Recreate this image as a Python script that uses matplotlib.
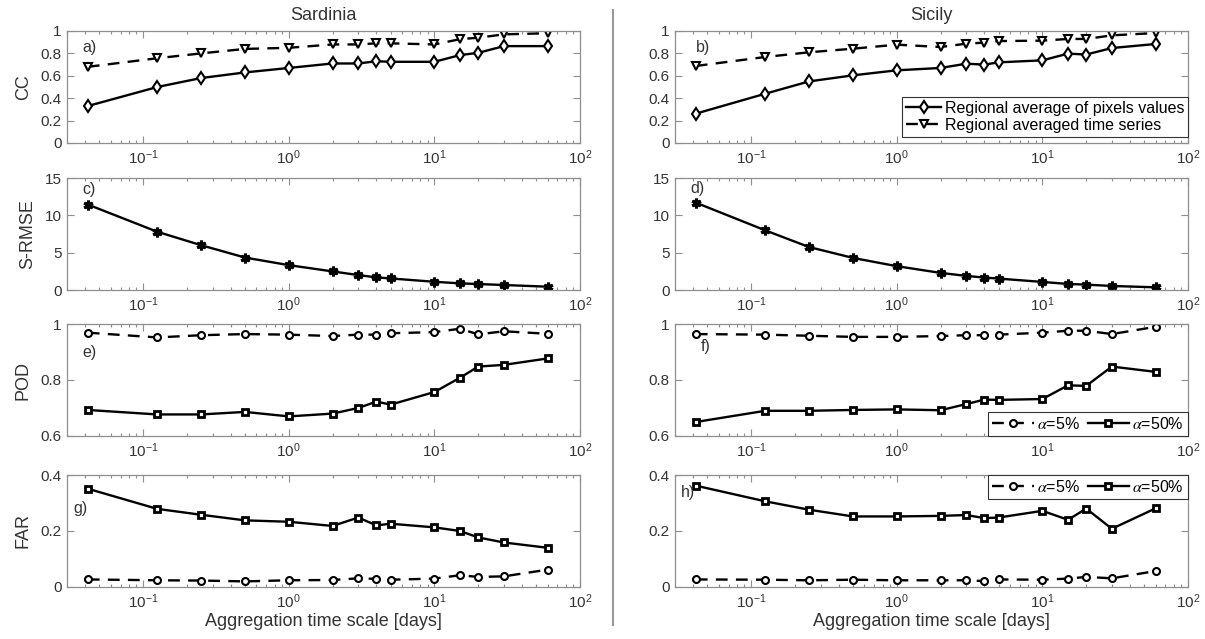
import numpy as np
import matplotlib
matplotlib.use("Agg")
import matplotlib.pyplot as plt
from matplotlib.lines import Line2D
from matplotlib.ticker import LogLocator, FuncFormatter, NullFormatter

plt.rcParams["font.family"] = ["Liberation Sans", "DejaVu Sans"]
plt.rcParams["mathtext.fontset"] = "stix"

# aggregation time scales [days]: 1h, 3h, 6h, 12h, 1d ... 60d
x_days = [1 / 24, 1 / 8, 1 / 4, 1 / 2, 1, 2, 3, 4, 5, 10, 15, 20, 30, 60]

regions = ["Sardinia", "Sicily"]

# correlation coefficient
cc_px_sar = [0.33, 0.50, 0.58, 0.63, 0.67, 0.71, 0.71, 0.73, 0.725, 0.725, 0.785, 0.805, 0.865, 0.865]
cc_ts_sar = [0.68, 0.757, 0.80, 0.84, 0.85, 0.88, 0.88, 0.89, 0.89, 0.88, 0.927, 0.94, 0.97, 0.98]
cc_px_sic = [0.262, 0.44, 0.55, 0.604, 0.649, 0.67, 0.708, 0.70, 0.72, 0.738, 0.798, 0.79, 0.848, 0.884]
cc_ts_sic = [0.6875, 0.768, 0.81, 0.842, 0.878, 0.857, 0.887, 0.896, 0.91, 0.914, 0.929, 0.929, 0.961, 0.982]

# scaled RMSE
srmse_sar = [11.45, 7.8, 6.0, 4.35, 3.33, 2.49, 2.0, 1.69, 1.55, 1.1, 0.89, 0.8, 0.67, 0.44]
srmse_sic = [11.7, 7.99, 5.75, 4.3, 3.19, 2.29, 1.89, 1.66, 1.53, 1.08, 0.81, 0.72, 0.54, 0.36]

# probability of detection
pod5_sar = [0.969, 0.952, 0.96, 0.964, 0.962, 0.957, 0.962, 0.962, 0.967, 0.971, 0.983, 0.963, 0.974, 0.965]
pod50_sar = [0.693, 0.677, 0.677, 0.686, 0.670, 0.680, 0.700, 0.723, 0.712, 0.757, 0.808, 0.848, 0.854, 0.877]
pod5_sic = [0.964, 0.962, 0.958, 0.954, 0.954, 0.957, 0.96, 0.96, 0.962, 0.969, 0.976, 0.976, 0.964, 0.99]
pod50_sic = [0.65, 0.69, 0.69, 0.693, 0.695, 0.692, 0.714, 0.73, 0.729, 0.732, 0.781, 0.779, 0.848, 0.829]

# false alarm ratio
far5_sar = [0.027, 0.024, 0.023, 0.020, 0.024, 0.025, 0.031, 0.029, 0.026, 0.030, 0.042, 0.036, 0.038, 0.062]
far50_sar = [0.351, 0.279, 0.258, 0.238, 0.233, 0.218, 0.248, 0.22, 0.226, 0.213, 0.20, 0.177, 0.159, 0.14]
far5_sic = [0.027, 0.026, 0.024, 0.026, 0.024, 0.024, 0.024, 0.021, 0.027, 0.026, 0.030, 0.036, 0.031, 0.057]
far50_sic = [0.362, 0.306, 0.276, 0.252, 0.252, 0.254, 0.257, 0.246, 0.248, 0.272, 0.24, 0.28, 0.208, 0.281]

row_names = ["CC", "S-RMSE", "POD", "FAR"]
panel_tags = [["a)", "b)"], ["c)", "d)"], ["e)", "f)"], ["g)", "h)"]]
ylims = [(0, 1), (0, 15), (0.6, 1), (0, 0.4)]
yticks = [[0, 0.2, 0.4, 0.6, 0.8, 1], [0, 5, 10, 15], [0.6, 0.8, 1], [0, 0.2, 0.4]]
tag_pos = [[(0.03, 0.855), (0.04, 0.855)],
           [(0.03, 0.9), (0.03, 0.91)],
           [(0.03, 0.745), (0.05, 0.8)],
           [(0.012, 0.70), (0.012, 0.84)]]

AX_COL = "#8f8f8f"
TXT_COL = "#333333"
W, H = 1205, 639

fig = plt.figure(figsize=(W / 100, H / 100), dpi=100)

col_left = [67, 675]
col_w = 513
row_top = [31, 178, 324, 475]
row_h = 112

solid = dict(color="black", linestyle="-", linewidth=1.7)
dashed = dict(color="black", linestyle=(0, (5, 3.5)), linewidth=1.7)
mk = dict(markerfacecolor="white", markeredgecolor="black", markeredgewidth=1.5)

axes = [[None, None] for _ in range(4)]
for r in range(4):
    for c in range(2):
        ax = fig.add_axes([col_left[c] / W, 1 - (row_top[r] + row_h) / H, col_w / W, row_h / H])
        ax.set_xscale("log")
        ax.set_xlim(0.03, 100)
        ax.set_ylim(*ylims[r])
        ax.set_yticks(yticks[r])
        ax.yaxis.set_major_formatter(FuncFormatter(lambda v, p: f"{v:g}"))
        ax.xaxis.set_major_locator(LogLocator(base=10, numticks=10))
        ax.xaxis.set_minor_locator(LogLocator(base=10, subs=np.arange(2, 10), numticks=20))
        ax.xaxis.set_minor_formatter(NullFormatter())
        ax.tick_params(which="both", direction="in", top=True, right=True,
                       color=AX_COL, labelcolor=TXT_COL, labelsize=11, width=0.8)
        ax.tick_params(which="major", length=5, pad=4)
        ax.tick_params(which="minor", length=2.5)
        for s in ax.spines.values():
            s.set_color(AX_COL)
            s.set_linewidth(0.9)
        tx, ty = tag_pos[r][c]
        ax.text(tx, ty, panel_tags[r][c], transform=ax.transAxes, fontsize=11.5,
                color=TXT_COL, ha="left", va="center")
        if c == 0:
            ax.set_ylabel(row_names[r], fontsize=13, color=TXT_COL, labelpad=6)
        axes[r][c] = ax

cc_data = [(cc_px_sar, cc_ts_sar), (cc_px_sic, cc_ts_sic)]
srmse_data = [srmse_sar, srmse_sic]
pod_data = [(pod5_sar, pod50_sar), (pod5_sic, pod50_sic)]
far_data = [(far5_sar, far50_sar), (far5_sic, far50_sic)]

for c in range(2):
    ax = axes[0][c]
    px, ts = cc_data[c]
    ax.plot(x_days, px, marker="d", markersize=6, label="Regional average of pixels values", **solid, **mk)
    ax.plot(x_days, ts, marker="v", markersize=6, label="Regional averaged time series", **dashed, **mk)
    ax.set_title(regions[c], fontsize=13, color=TXT_COL, pad=8)

    ax = axes[1][c]
    ax.plot(x_days, srmse_data[c], marker=(6, 2, 0), markersize=7, markeredgewidth=2.2,
            markeredgecolor="black", **solid)

    for r, data in ((2, pod_data[c]), (3, far_data[c])):
        ax = axes[r][c]
        a5, a50 = data
        ax.plot(x_days, a5, marker="o", markersize=5, label=r"$\alpha$=5%", **dashed, **mk)
        ax.plot(x_days, a50, marker="s", markersize=4.5, label=r"$\alpha$=50%",
                color="black", linestyle="-", linewidth=1.7,
                markerfacecolor="white", markeredgecolor="black", markeredgewidth=2)

    axes[3][c].set_xlabel("Aggregation time scale [days]", fontsize=13, color=TXT_COL, labelpad=1)

leg_kw = dict(fontsize=11.5, frameon=True, fancybox=False, framealpha=1,
              edgecolor="#333333", borderaxespad=0, handletextpad=0.2, borderpad=0.25,
              labelspacing=0.15, handlelength=2.2)

leg = axes[0][1].legend(loc="lower right", bbox_to_anchor=(1.0, 0.054), **leg_kw)
leg.get_frame().set_linewidth(0.8)
leg_kw["handlelength"] = 2.6
leg = axes[2][1].legend(loc="lower right", bbox_to_anchor=(1.0, 0.0), ncol=2,
                        columnspacing=0.5, **leg_kw)
leg.get_frame().set_linewidth(0.8)
leg = axes[3][1].legend(loc="upper right", bbox_to_anchor=(1.0, 1.0), ncol=2,
                        columnspacing=0.5, **leg_kw)
leg.get_frame().set_linewidth(0.8)

# divider between the two regions
fig.add_artist(Line2D([613 / W, 613 / W], [1 - 10 / H, 1 - 625 / H], color="#9a9a9a", linewidth=1.5))

fig.savefig("out.png", dpi=100)
